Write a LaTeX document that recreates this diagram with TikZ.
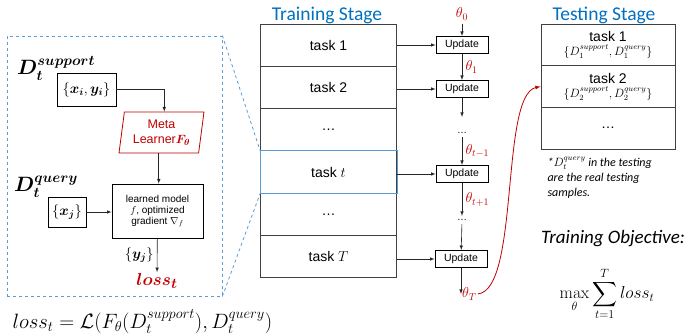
\documentclass[tikz,border=0pt]{standalone}
\usepackage[no-math]{fontspec}
\usepackage{amsmath}
\usepackage{bm}
\setmainfont{Liberation Sans}
\newfontfamily\calibri{Carlito}
\usetikzlibrary{shapes.geometric}
\definecolor{stageblue}{HTML}{0070C0}
\definecolor{zoomblue}{HTML}{5B9BD5}
\definecolor{metared}{HTML}{C00000}
\definecolor{boxgray}{HTML}{404040}

\begin{document}
\begin{tikzpicture}[x=1pt,y=-1pt,>=latex,
  row/.style={draw=boxgray,line width=0.9pt,minimum width=136pt,minimum height=42.3pt,inner sep=0pt,font=\fontsize{14}{16}\selectfont},
  testrow/.style={row,minimum width=134pt,minimum height=41.7pt,align=center},
  upd/.style={draw=black,line width=0.8pt,minimum width=52pt,minimum height=17pt,inner sep=0pt,font=\fontsize{10.5}{12}\selectfont},
  lbox/.style={draw=black,line width=0.8pt,inner sep=0pt},
  stage/.style={text=stageblue,font=\calibri\fontsize{19.5}{22}\selectfont},
  theta/.style={text=metared,font=\fontsize{14}{16}\selectfont},
  wire/.style={->,line width=0.6pt,draw=black!85},
  zoomline/.style={dashed,zoomblue,line width=0.8pt}]
\useasboundingbox (0,0) rectangle (686,336);

% Training column
\node[stage] (train) at (327,15) {Training Stage};
\foreach \i/\lab in {1/task 1,2/task 2,3/\dots,4/task $t$,5/\dots,6/task $T$} {
  \node[row] (r\i) at (328.5,{24+42.3*(\i-0.5)}) {\lab};
}
\draw[zoomblue,line width=0.9pt] (r4.north west) rectangle (r4.south east);

% Updates
\node[upd] (u1) at (462,45) {Update};
\node[upd] (u2) at (462,89) {Update};
\node[upd] (ut) at (462,174) {Update};
\node[upd] (uT) at (461,259) {Update};
\foreach \r/\u in {1/u1,2/u2,4/ut,6/uT} {
  \draw[wire] (r\r.east |- \u) -- (\u.west);
}

% Parameter chain
\node[theta] (th0) at (462,14) {$\theta_0$};
\draw[wire] (th0) -- (u1);
\draw[wire] (u1) -- node[theta,right] {$\theta_1$} (u2);
\coordinate (a1) at (462,117);
\draw[wire] (u2) -- (a1);
\node (dots1) at (462,133) {\dots};
\draw[wire] (dots1) -- node[theta,right] {$\theta_{t-1}$} (ut);
\node (dots2) at (462,220) {\dots};
\draw[wire] (ut) -- node[theta,right] {$\theta_{t+1}$} (dots2);
\draw[wire] (dots2) -- (uT);
\coordinate (a2) at (461,294);
\draw[wire] (uT) -- (a2);
\node[theta,right,inner sep=1pt] (thT) at (a2) {$\theta_T$};

% Testing column
\node[stage] (test) at (604,15) {Testing Stage};
\node[testrow] (s1) at (608,44.85) {task 1\\[-2pt]{\fontsize{12}{13}\selectfont$\{D_1^{support},D_1^{query}\}$}};
\node[testrow] (s2) at (608,86.55) {task 2\\[-2pt]{\fontsize{12}{13}\selectfont$\{D_2^{support},D_2^{query}\}$}};
\node[testrow] (s3) at (608,128.25) {\dots};
\node[anchor=north west,align=left,font=\calibri\itshape\fontsize{12}{15}\selectfont] (note) at (544,154) {*$D_t^{query}$ in the testing\\are the real testing\\samples.};
\draw[->,metared,line width=0.8pt] (thT.east) .. controls (520,290) and (500,95) .. (s2.west);

% Objective
\node[font=\calibri\itshape\fontsize{19}{22}\selectfont] (obj) at (613,239) {Training Objective:};
\node[font=\fontsize{17.5}{20}\selectfont] (maxsum) at (607,294) {$\displaystyle\max_{\theta}\sum_{t=1}^{T} loss_t$};

% Zoomed task
\node[draw=zoomblue,dashed,line width=0.8pt,minimum width=215pt,minimum height=260pt,inner sep=0pt] (panel) at (114.5,166) {};
\draw[zoomline] (panel.north east) -- (r4.north west);
\draw[zoomline] (panel.south east) -- (r4.south west);

\node[anchor=base west,inner sep=0pt,font=\fontsize{21}{24}\selectfont] (dsup) at (17,75) {$\bm{D_t^{support}}$};
\node[anchor=base west,inner sep=0pt,font=\fontsize{21}{24}\selectfont] (dqry) at (14,192) {$\bm{D_t^{query}}$};
\node[lbox,minimum width=59pt,minimum height=33pt,font=\fontsize{14.5}{16}\selectfont] (xy) at (86.5,89.5) {$\{\bm{x_i},\bm{y_i}\}$};
\node[trapezium,trapezium left angle=79,trapezium right angle=101,trapezium stretches body,draw=metared,line width=0.8pt,text=metared,align=center,minimum width=85pt,minimum height=41pt,inner sep=1pt,font=\fontsize{12.5}{15}\selectfont] (meta) at (161.5,132.5) {Meta\\Learner$\bm{F_\theta}$};
\node[lbox,minimum width=91pt,minimum height=54pt,align=center,font=\fontsize{10}{11}\selectfont] (lm) at (157.5,211) {learned model\\$f$, optimized\\gradient $\nabla_f$};
\node[lbox,minimum width=38pt,minimum height=30pt,font=\fontsize{14}{16}\selectfont] (xj) at (67,212) {$\{\bm{x_j}\}$};
\node[text=metared,inner sep=1pt,font=\fontsize{19}{21}\selectfont] (loss) at (157,281) {$\bm{loss_t}$};
\draw[wire] (xy.east) -| (meta.top side);
\draw[wire] (meta.bottom side) -- (meta.bottom side |- lm.north);
\draw[wire] (xj) -- (xj -| lm.west);
\draw[wire] (lm) -- node[left,font=\fontsize{14}{16}\selectfont] {$\{\bm{y_j}\}$} (loss);

% Loss definition
\node[anchor=west,font=\fontsize{20}{22}\selectfont] (lossdef) at (9,322) {$loss_t=\mathcal{L}(F_\theta(D_t^{support}),D_t^{query})$};

\end{tikzpicture}
\end{document}
